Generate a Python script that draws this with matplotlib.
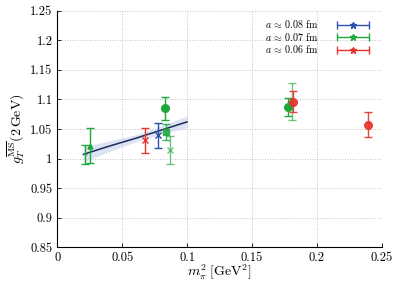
import numpy as np
import matplotlib
matplotlib.use("Agg")
import matplotlib.pyplot as plt
from matplotlib.ticker import FuncFormatter, MultipleLocator
from matplotlib.legend_handler import HandlerErrorbar

plt.rcParams["font.family"] = ["cmr10", "DejaVu Serif"]
plt.rcParams["mathtext.fontset"] = "cm"
plt.rcParams["axes.formatter.use_mathtext"] = True
plt.rcParams["font.size"] = 9

# a ~ 0.08 fm (blue)
b_x = [0.0778]
b_y = [1.039]
b_e = [0.021]

# a ~ 0.07 fm (green), grouped by marker
g_circ_x = [0.0832, 0.1776]
g_circ_y = [1.085, 1.087]
g_circ_e = [0.019, 0.015]
g_sq_x = [0.0838]
g_sq_y = [1.045]
g_sq_e = [0.014]
g_dot_x = [0.0213]
g_dot_y = [1.007]
g_dot_e = [0.016]
g_tri_x = [0.0252]
g_tri_y = [1.022]
g_tri_e = [0.030]
g_x_x = [0.0869, 0.1810]
g_x_y = [1.014, 1.096]
g_x_e = [0.024, 0.031]

# a ~ 0.06 fm (red)
r_x_x = [0.0673]
r_x_y = [1.031]
r_x_e = [0.021]
r_circ_x = [0.1814, 0.2395]
r_circ_y = [1.096, 1.057]
r_circ_e = [0.018, 0.021]

# chiral fit and its band
fit_x = [0.02, 0.04, 0.06, 0.08, 0.10]
fit_y = [1.007, 1.021, 1.034, 1.048, 1.062]
fit_w = [0.013, 0.009, 0.006, 0.007, 0.010]

legend_labels = [r"$a \,\approx\, 0.08$ fm", r"$a \,\approx\, 0.07$ fm",
                 r"$a \,\approx\, 0.06$ fm"]

BLUE = "#2a52ad"
GREEN = "#1ea83c"
RED = "#e8322b"

fig = plt.figure(figsize=(3.98, 2.81), dpi=100)
ax = fig.add_axes([0.144, 0.120, 0.815, 0.842])

fx = np.array(fit_x); fy = np.array(fit_y); fw = np.array(fit_w)
ax.fill_between(fx, fy - fw, fy + fw, color="#c5d2ec", alpha=0.6, lw=0, zorder=2)
ax.plot(fx, fy, color="#1b2b5c", lw=1.1, zorder=3)

def pts(x, y, e, c, m, ms, alpha=1.0, mew=1.0):
    ax.errorbar(x, y, yerr=e, fmt=m, color=c, ms=ms, mew=mew,
                ecolor=c, elinewidth=1.0, capsize=3, capthick=1.0,
                alpha=alpha, zorder=4)

pts(g_x_x, g_x_y, g_x_e, GREEN, "x", 4, alpha=0.65)
pts(g_dot_x, g_dot_y, g_dot_e, GREEN, "_", 3)
pts(g_tri_x, g_tri_y, g_tri_e, GREEN, "^", 3.5)
pts(g_sq_x, g_sq_y, g_sq_e, GREEN, "s", 5, alpha=0.85)
pts(g_circ_x, g_circ_y, g_circ_e, GREEN, "o", 5.5)
pts(b_x, b_y, b_e, BLUE, "x", 4)
pts(r_x_x, r_x_y, r_x_e, RED, "x", 4)
pts(r_circ_x, r_circ_y, r_circ_e, RED, "o", 5.5, alpha=0.9)

# legend handles: horizontal error bars with a star, gnuplot style
handles = []
for c in (BLUE, GREEN, RED):
    h = ax.errorbar([np.nan], [np.nan], xerr=[1], fmt="*", color=c, ms=5,
                    elinewidth=1.0, capsize=3, capthick=1.0)
    handles.append(h)
ax.legend(handles, legend_labels,
          loc="upper right", bbox_to_anchor=(0.984, 0.998), frameon=False,
          markerfirst=False, handlelength=3.3, handletextpad=1.8,
          labelspacing=0.05, borderpad=0.2, fontsize=7.2,
          handler_map={type(handles[0]): HandlerErrorbar(xerr_size=1.6, numpoints=1)})

ax.set_xlim(0, 0.25)
ax.set_ylim(0.85, 1.25)
ax.xaxis.set_major_locator(MultipleLocator(0.05))
ax.yaxis.set_major_locator(MultipleLocator(0.05))
fmt = FuncFormatter(lambda v, p: f"{v:g}")
ax.xaxis.set_major_formatter(fmt)
ax.yaxis.set_major_formatter(fmt)
ax.tick_params(direction="in", length=3, width=0.6, labelsize=9)
ax.grid(True, linestyle=(0, (1, 2)), color="#b0b0b0", lw=0.6)
for s in ("top", "right"):
    ax.spines[s].set_visible(False)
for s in ("left", "bottom"):
    ax.spines[s].set_linewidth(0.8)

ax.set_xlabel(r"$m_\pi^2\ [\mathrm{GeV}^2]$", fontsize=10, labelpad=-1)
ax.set_ylabel(r"$g_T^{\overline{\rm MS}}(2\,\mathrm{GeV})$", fontsize=10, labelpad=2)

fig.savefig("out.png", dpi=100)
